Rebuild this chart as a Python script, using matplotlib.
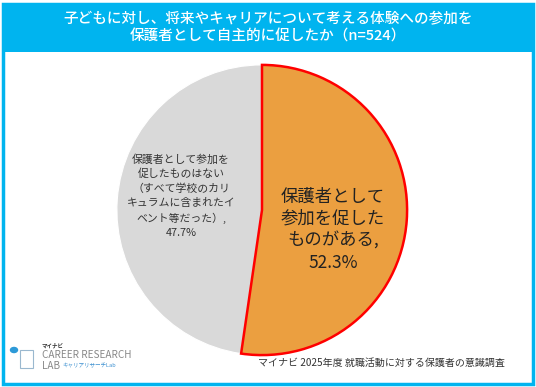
import matplotlib
matplotlib.use("Agg")
import matplotlib.pyplot as plt
from matplotlib.patches import Rectangle

plt.rcParams['font.family'] = ['Noto Sans CJK JP', 'DejaVu Sans']

# data
labels = ["保護者として\n参加を促した\nものがある,\n52.3%",
          "保護者として参加を\n促したものはない\n（すべて学校のカリ\nキュラムに含まれたイ\nベント等だった）,\n47.7%"]
values = [52.3, 47.7]
colors = ["#EB9F40", "#D9D9D9"]
title = "子どもに対し、将来やキャリアについて考える体験への参加を\n保護者として自主的に促したか（n=524）"
source = "マイナビ 2025年度 就職活動に対する保護者の意識調査"

W, H = 536, 387
fig = plt.figure(figsize=(W / 100, H / 100), dpi=100)
fig.patch.set_facecolor("white")

cyan = "#00B4EF"
# frame and header band
fig.add_artist(Rectangle((3 / W, 1 - 384 / H), 530 / W, 380 / H, transform=fig.transFigure,
                         facecolor="none", edgecolor=cyan, linewidth=2.5))
fig.add_artist(Rectangle((3 / W, 1 - 52 / H), 530 / W, 48 / H, transform=fig.transFigure,
                         facecolor=cyan, edgecolor=cyan, linewidth=0))
fig.text(0.5, 1 - 28 / H, title, ha="center", va="center", color="white",
         fontsize=10.5, linespacing=1.35, weight="medium")

# pie
cx, cy, r = 262, 210, 148
ax = fig.add_axes([(cx - r) / W, 1 - (cy + r) / H, 2 * r / W, 2 * r / H])
wedges, _ = ax.pie(values, colors=colors, startangle=90, counterclock=False,
                   wedgeprops=dict(linewidth=0.8, edgecolor="white"))
wedges[0].set_edgecolor("#FF0000")
wedges[0].set_linewidth(1.8)
wedges[0].set_zorder(3)
ax.set_aspect("auto")
ax.set_xlim(-1.02, 1.02)
ax.set_ylim(-1.02, 1.02)
ax.axis("off")

fig.text(333 / W, 1 - 230 / H, labels[0], ha="center", va="center",
         fontsize=12.5, color="#222222", linespacing=1.3)
fig.text(181 / W, 1 - 196 / H, labels[1], ha="center", va="center",
         fontsize=7.8, color="#333333", linespacing=1.5)

# source
fig.text(505 / W, 1 - 363 / H, source, ha="right", va="center", fontsize=7.2, color="#333333")

# logo
fig.text(42 / W, 1 - 346 / H, "マイナビ", fontsize=4, color="#333333", weight="bold", va="center")
fig.text(42 / W, 1 - 355 / H, "CAREER RESEARCH", fontsize=7.2, color="#888888", va="center")
fig.text(42 / W, 1 - 366 / H, "LAB", fontsize=7.2, color="#888888", va="center")
fig.text(62 / W, 1 - 366 / H, "キャリアリサーチLab", fontsize=4, color="#3A8FD0", va="center")
fig.add_artist(plt.Circle((14 / W, 1 - 350 / H), 3.5 / W, transform=fig.transFigure,
                          color="#2D9AD8"))
fig.add_artist(Rectangle((20 / W, 1 - 368 / H), 13 / W, 18 / H, transform=fig.transFigure,
                         facecolor="none", edgecolor="#9AB8CF", linewidth=0.8))

fig.savefig("out.png", dpi=100)
